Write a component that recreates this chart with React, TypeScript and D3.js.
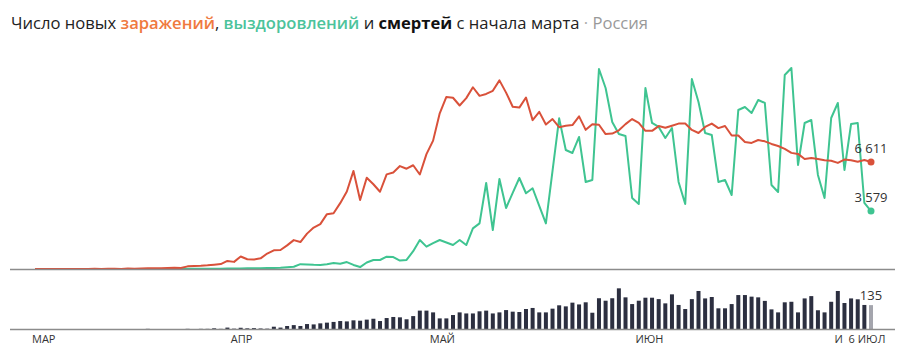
import React from "react";
import * as d3 from "d3";

// Day 0 = 2 March 2020, last day = 6 July 2020
const cases = [
  1, 0, 0, 1, 6, 0, 3, 0, 3, 8, 6, 11, 14, 4, 30, 21, 33, 52, 54, 53, 61, 71, 57, 163, 182, 196, 228, 270, 302, 500,
  440, 771, 601, 582, 658, 954, 1154, 1175, 1459, 1786, 1667, 2186, 2558, 2774, 3388, 3448, 4070, 4785, 6060, 4268,
  5642, 5236, 4774, 5849, 5966, 6361, 6198, 6411, 5841, 7099,
  7933, 9623, 10633, 10581, 10102, 10559, 11231, 10699, 10817, 11012, 11656, 10899, 10028, 9974, 10598, 9200, 9709,
  8926, 9263, 8764, 8849, 8894, 9434, 8599, 8946, 8915, 8338, 8371, 8572, 8952, 9268,
  9035, 8536, 8536, 8831, 8726, 8855, 8984, 8985, 8595, 8404, 8779, 8987, 8706, 8835, 8246, 8248, 7843, 7790, 7972,
  7889, 7728, 7600, 7425, 7176, 7113, 6800, 6852, 6791, 6719, 6693,
  6556, 6760, 6718, 6632, 6736, 6611,
];

const recovered = [
  0, 0, 0, 0, 0, 0, 0, 0, 0, 0, 0, 0, 0, 0, 0, 0, 2, 0, 3, 5, 2, 4, 6, 8, 10, 12, 14, 18, 22, 25,
  30, 35, 40, 45, 50, 60, 60, 80, 110, 140, 300, 280, 260, 250, 300, 370, 330, 430, 250, 120,
  400, 556, 556, 760, 740, 520, 560, 1100, 1790, 1380,
  1600, 1790, 1640, 1480, 1790, 1480, 2510, 2820, 5315, 2410, 5562, 3770, 4700, 5624, 4680, 4990, 3900,
  2820, 6060, 9310, 7354, 7169, 8158, 5377, 5500, 12360, 11186, 9085, 8343, 8219, 4388,
  4017, 11186, 9023, 8776, 8096, 8714, 5377, 4017, 11742, 10320, 8405, 8281, 5377, 5500, 4573,
  9826, 10012, 9640, 10444, 10260, 5191, 4759, 11989, 12422, 6427, 9023, 9208, 5809, 4388, 9332,
  10259, 6118, 8961, 9023, 4079, 3579,
];

const deaths = [
  0, 0, 0, 0, 0, 0, 0, 0, 0, 0, 0, 0, 0, 0, 0, 0, 0, 1, 0, 0, 0, 0, 0, 1, 0, 1, 1, 4, 1, 8,
  2, 7, 4, 5, 3, 2, 13, 8, 17, 22, 17, 28, 26, 32, 36, 40, 45, 43, 49, 47,
  53, 58, 45, 62, 68, 66, 55, 73, 104, 104,
  94, 60, 60, 79, 94, 88, 88, 100, 104, 88, 94, 107, 98, 96, 113, 119, 94,
  94, 115, 134, 128, 149, 139, 151, 92, 174, 160, 174, 230, 179, 141,
  160, 177, 177, 169, 145, 196, 136, 113, 169, 215, 173, 181, 117, 117, 141,
  192, 192, 183, 179, 159, 111, 94, 151, 154, 94, 173, 186, 106, 94, 154,
  215, 147, 173, 168, 136, 135,
];

const monthLabels = ["МАР", "АПР", "МАЙ", "ИЮН", "ИЮЛ"];
const monthStartIndex = [0, 30, 60, 91, 121];
const lastDayLabel = "6 ИЮЛ";

const W = 904;
const H = 360;
const FONT = "'Open Sans', 'Noto Sans', sans-serif";
const RED = "#d9513a";
const GREEN = "#3fc491";

const fmt = (v: number) => d3.format(",")(v).replace(",", " ");

export default function App() {
  const n = cases.length;
  const x = d3.scaleLinear().domain([0, n - 1]).range([35, 871]);
  const step = x(1) - x(0);
  const y = d3.scaleLinear().domain([0, 12000]).range([269, 74.8]);
  const yBar = d3.scaleLinear().domain([0, 250]).range([329, 284.8]);

  const line = d3
    .line<number>()
    .x((_, i) => x(i))
    .y(d => y(d));

  const last = n - 1;
  const lastLabelX = Math.min(x(last), 867);

  return (
    <svg
      width={W}
      height={H}
      style={{ position: "absolute", left: 0, top: 0, background: "#fff" }}
      fontFamily={FONT}
    >
      <text x={11} y={29} fontSize={16.6} fill="#222">
        <tspan>Число новых </tspan>
        <tspan fill="#ef7a3f" fontWeight={600}>заражений</tspan>
        <tspan>, </tspan>
        <tspan fill="#4cc39b" fontWeight={600}>выздоровлений</tspan>
        <tspan> и </tspan>
        <tspan fontWeight={700} fill="#111">смертей</tspan>
        <tspan> с начала марта</tspan>
        <tspan fill="#aaa"> · </tspan>
        <tspan fill="#999">Россия</tspan>
      </text>

      {/* upper chart */}
      <path d={line(recovered) ?? ""} fill="none" stroke={GREEN} strokeWidth={2} strokeLinejoin="round" />
      <path d={line(cases) ?? ""} fill="none" stroke={RED} strokeWidth={2} strokeLinejoin="round" />
      <line x1={10} x2={895} y1={269.5} y2={269.5} stroke="#8c8c8c" strokeWidth={1.5} />
      <circle cx={x(last)} cy={y(cases[last])} r={3.5} fill={RED} />
      <circle cx={x(last)} cy={y(recovered[last])} r={3.5} fill={GREEN} />
      <text x={x(last)} y={y(cases[last]) - 9} fontSize={13} textAnchor="middle" fill="#333">
        {fmt(cases[last])}
      </text>
      <text x={x(last)} y={y(recovered[last]) - 9} fontSize={13} textAnchor="middle" fill="#333">
        {fmt(recovered[last])}
      </text>

      {/* lower chart */}
      {deaths.map((d, i) => (
        <rect
          key={i}
          x={x(i) - 2}
          width={4}
          y={yBar(d)}
          height={yBar(0) - yBar(d)}
          fill={i === last ? "#a4a5ad" : "#2c2f40"}
        />
      ))}
      <line x1={10} x2={895} y1={329.5} y2={329.5} stroke="#8c8c8c" strokeWidth={1.5} />
      <text x={x(last)} y={yBar(deaths[last]) - 5} fontSize={13} textAnchor="middle" fill="#333">
        {deaths[last]}
      </text>

      {monthLabels.map((m, k) => (
        <text
          key={m}
          x={k === 0 ? x(0) - 3 : x(monthStartIndex[k]) - step / 2}
          y={343}
          fontSize={11}
          fill="#333"
        >
          {m}
        </text>
      ))}
      <rect x={lastLabelX - 24} y={331} width={48} height={16} fill="#fff" />
      <text x={lastLabelX} y={343} fontSize={11} textAnchor="middle" fill="#333">
        {lastDayLabel}
      </text>
    </svg>
  );
}
